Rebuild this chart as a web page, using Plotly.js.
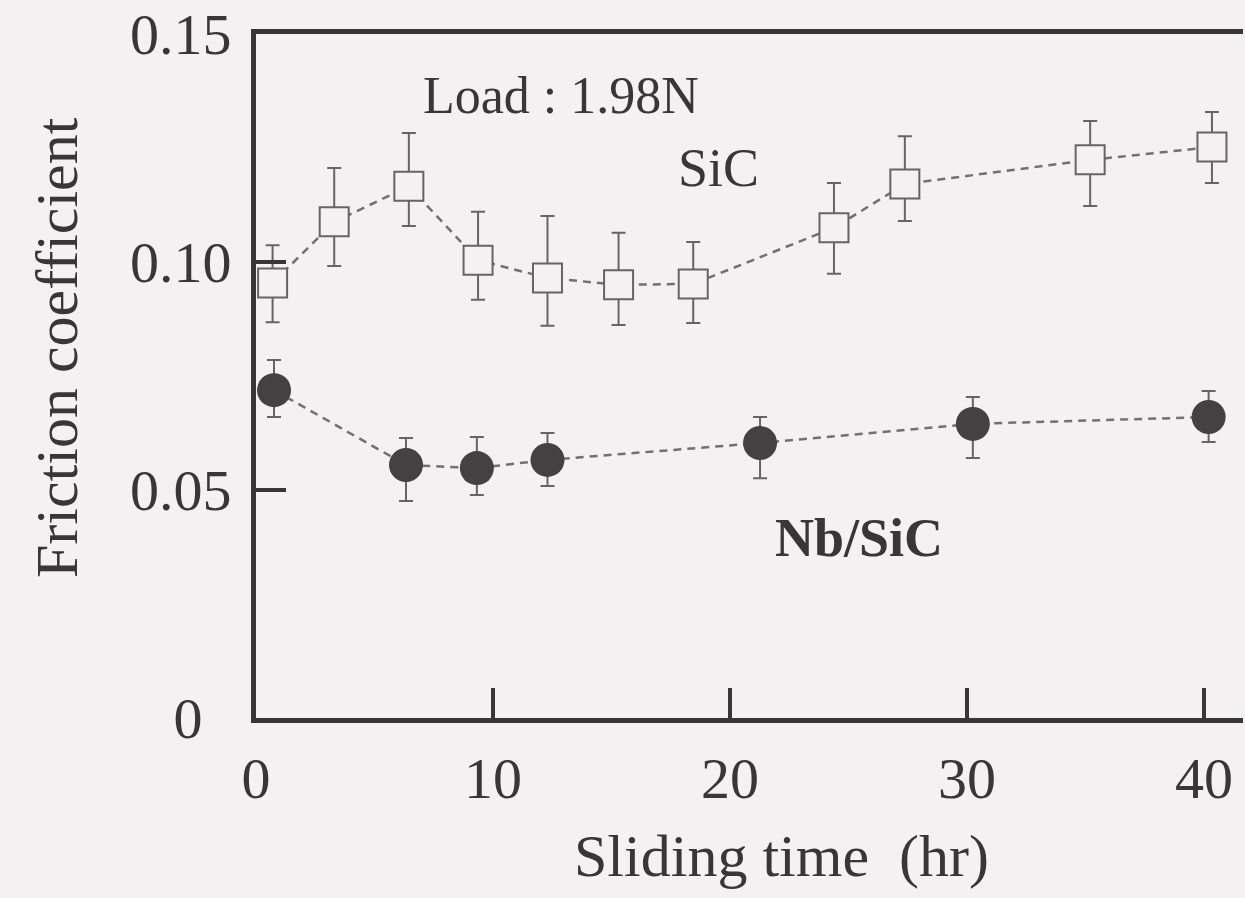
<!DOCTYPE html>
<html>
<head>
<meta charset="utf-8">
<script src="https://cdn.plot.ly/plotly-3.0.1.min.js"></script>
<style>
  html, body { margin: 0; padding: 0; background: #f3f1f1; }
  #chart { width: 1245px; height: 898px; }
</style>
</head>
<body>
<div id="chart"></div>
<script>
// ---- Data ----
const sicTime = [0.7, 3.3, 6.45, 9.37, 12.3, 15.3, 18.45, 24.39, 27.38, 35.2, 40.34];
const sicFriction = [0.0954, 0.1088, 0.1166, 0.1004, 0.0965, 0.0950, 0.0952, 0.1075, 0.1171, 0.1224, 0.1252];
const sicErrPlus = [0.0083, 0.0118, 0.0117, 0.0106, 0.0136, 0.0114, 0.0092, 0.0098, 0.0105, 0.0085, 0.0077];
const sicErrMinus = [0.0086, 0.0097, 0.0087, 0.0087, 0.0105, 0.0088, 0.0086, 0.0101, 0.0081, 0.0101, 0.0079];

const nbTime = [0.76, 6.33, 9.32, 12.3, 21.27, 30.25, 40.2];
const nbFriction = [0.0719, 0.0555, 0.0548, 0.0566, 0.0603, 0.0645, 0.0660];
const nbErrPlus = [0.0066, 0.0059, 0.0068, 0.0059, 0.0057, 0.0059, 0.0057];
const nbErrMinus = [0.0059, 0.0079, 0.0059, 0.0057, 0.0077, 0.0075, 0.0055];

const xTickVals = [0, 10, 20, 30, 40];
const xTickText = ['0', '10', '20', '30', '40'];
const yTickVals = [0, 0.05, 0.10, 0.15];
const yTickText = ['0\u00A0\u00A0', '0.05', '0.10', '0.15'];

const xTitle = 'Sliding time\u00A0\u00A0(hr)';
const yTitle = 'Friction coefficient';
const loadLabel = 'Load : 1.98N';
const sicLabel = 'SiC';
const nbLabel = 'Nb/SiC';

// ---- Styles ----
const serif = 'Liberation Serif, Times New Roman, serif';
const ink = '#383636';
const bg = '#f3f1f1';

const traces = [
  {
    x: sicTime, y: sicFriction, name: sicLabel,
    type: 'scatter', mode: 'lines+markers',
    line: { color: '#727070', width: 2.5, dash: '8px,6px' },
    marker: { symbol: 'square', size: 29, color: bg, line: { color: '#666464', width: 2 } },
    error_y: { type: 'data', symmetric: false, array: sicErrPlus, arrayminus: sicErrMinus,
               color: '#666464', thickness: 2, width: 7 },
    cliponaxis: false
  },
  {
    x: nbTime, y: nbFriction, name: nbLabel,
    type: 'scatter', mode: 'lines+markers',
    line: { color: '#727070', width: 2.5, dash: '8px,6px' },
    marker: { symbol: 'circle', size: 34, color: '#434141', line: { width: 0 } },
    error_y: { type: 'data', symmetric: false, array: nbErrPlus, arrayminus: nbErrMinus,
               color: '#666464', thickness: 2, width: 7 },
    cliponaxis: false
  }
];

const layout = {
  width: 1245, height: 898,
  margin: { l: 256, r: 2, t: 34, b: 180, pad: 0 },
  paper_bgcolor: bg, plot_bgcolor: bg,
  showlegend: false,
  font: { family: serif, color: ink, size: 58 },
  xaxis: {
    range: [0, 41.65],
    tickmode: 'array', tickvals: xTickVals, ticktext: xTickText,
    ticks: 'inside', ticklen: 30, tickwidth: 4, tickcolor: ink,
    showline: true, linewidth: 5, linecolor: ink, mirror: true,
    showgrid: false, zeroline: false,
    tickfont: { family: serif, size: 58, color: ink },
    ticklabelstandoff: 5
  },
  yaxis: {
    range: [0, 0.15],
    tickmode: 'array', tickvals: yTickVals, ticktext: yTickText,
    ticks: 'inside', ticklen: 30, tickwidth: 4, tickcolor: ink,
    showline: true, linewidth: 5, linecolor: ink, mirror: false,
    showgrid: false, zeroline: false,
    tickfont: { family: serif, size: 58, color: ink },
    ticklabelstandoff: 8
  },
  annotations: [
    { text: loadLabel, xref: 'x', yref: 'y', x: 12.87, y: 0.1366,
      xanchor: 'center', yanchor: 'middle', showarrow: false,
      font: { family: serif, size: 52, color: ink } },
    { text: sicLabel, xref: 'x', yref: 'y', x: 19.5, y: 0.1206,
      xanchor: 'center', yanchor: 'middle', showarrow: false,
      font: { family: serif, size: 54, color: ink } },
    { text: '<b>' + nbLabel + '</b>', xref: 'x', yref: 'y', x: 25.44, y: 0.0395,
      xanchor: 'center', yanchor: 'middle', showarrow: false,
      font: { family: serif, size: 54, color: ink } },
    { text: xTitle, xref: 'paper', yref: 'paper', x: (781 - 256) / 987, y: -(856 - 718) / 684,
      xanchor: 'center', yanchor: 'middle', showarrow: false,
      font: { family: serif, size: 60, color: ink } },
    { text: yTitle, xref: 'paper', yref: 'paper', x: (57 - 256) / 987, y: (718 - 348) / 684,
      xanchor: 'center', yanchor: 'middle', showarrow: false, textangle: -90,
      font: { family: serif, size: 60, color: ink } }
  ]
};

Plotly.newPlot('chart', traces, layout, { staticPlot: true, displayModeBar: false });
</script>
</body>
</html>
